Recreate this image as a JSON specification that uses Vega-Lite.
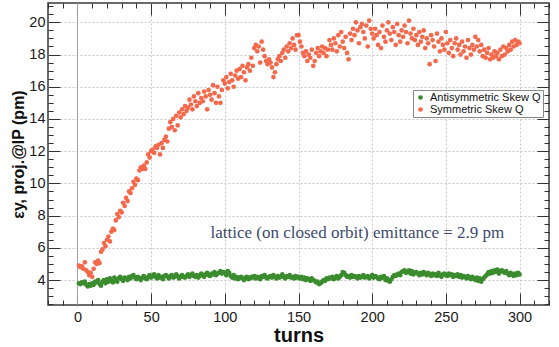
{
  "$schema": "https://vega.github.io/schema/vega-lite/v6.json",
  "width": 501,
  "height": 302,
  "autosize": {"type": "none"},
  "padding": {"left": 48, "top": 3, "right": 10, "bottom": 42},
  "background": "white",
  "config": {
    "view": {"stroke": "#3a3a3a", "strokeWidth": 1.5},
    "font": "Liberation Sans",
    "axis": {"labelFont": "Liberation Sans", "labelFontSize": 14.5, "labelColor": "#1a1a1a", "tickColor": "#333", "domain": false}
  },
  "data": {"values": [
{"t":1,"v":4.9,"c":"Symmetric Skew Q"},{"t":2,"v":4.8,"c":"Symmetric Skew Q"},{"t":3,"v":4.85,"c":"Symmetric Skew Q"},{"t":4,"v":4.7,"c":"Symmetric Skew Q"},{"t":5,"v":5.1,"c":"Symmetric Skew Q"},{"t":6,"v":4.6,"c":"Symmetric Skew Q"},{"t":7,"v":4.5,"c":"Symmetric Skew Q"},{"t":8,"v":4.3,"c":"Symmetric Skew Q"},{"t":9,"v":4.45,"c":"Symmetric Skew Q"},{"t":10,"v":4.2,"c":"Symmetric Skew Q"},
{"t":11,"v":4.7,"c":"Symmetric Skew Q"},{"t":12,"v":5.1,"c":"Symmetric Skew Q"},{"t":13,"v":5.0,"c":"Symmetric Skew Q"},{"t":14,"v":5.2,"c":"Symmetric Skew Q"},{"t":15,"v":5.05,"c":"Symmetric Skew Q"},{"t":16,"v":5.75,"c":"Symmetric Skew Q"},{"t":17,"v":5.9,"c":"Symmetric Skew Q"},{"t":18,"v":6.3,"c":"Symmetric Skew Q"},{"t":19,"v":6.1,"c":"Symmetric Skew Q"},{"t":20,"v":6.5,"c":"Symmetric Skew Q"},
{"t":21,"v":6.7,"c":"Symmetric Skew Q"},{"t":22,"v":6.4,"c":"Symmetric Skew Q"},{"t":23,"v":7.0,"c":"Symmetric Skew Q"},{"t":24,"v":7.2,"c":"Symmetric Skew Q"},{"t":25,"v":7.1,"c":"Symmetric Skew Q"},{"t":26,"v":7.7,"c":"Symmetric Skew Q"},{"t":27,"v":8.1,"c":"Symmetric Skew Q"},{"t":28,"v":7.9,"c":"Symmetric Skew Q"},{"t":29,"v":8.3,"c":"Symmetric Skew Q"},{"t":30,"v":8.2,"c":"Symmetric Skew Q"},
{"t":31,"v":8.8,"c":"Symmetric Skew Q"},{"t":32,"v":8.6,"c":"Symmetric Skew Q"},{"t":33,"v":9.1,"c":"Symmetric Skew Q"},{"t":34,"v":8.9,"c":"Symmetric Skew Q"},{"t":35,"v":9.5,"c":"Symmetric Skew Q"},{"t":36,"v":9.4,"c":"Symmetric Skew Q"},{"t":37,"v":9.7,"c":"Symmetric Skew Q"},{"t":38,"v":10.1,"c":"Symmetric Skew Q"},{"t":39,"v":9.9,"c":"Symmetric Skew Q"},{"t":40,"v":10.3,"c":"Symmetric Skew Q"},
{"t":41,"v":10.2,"c":"Symmetric Skew Q"},{"t":42,"v":10.8,"c":"Symmetric Skew Q"},{"t":43,"v":11.0,"c":"Symmetric Skew Q"},{"t":44,"v":10.9,"c":"Symmetric Skew Q"},{"t":45,"v":11.1,"c":"Symmetric Skew Q"},{"t":46,"v":10.9,"c":"Symmetric Skew Q"},{"t":47,"v":11.3,"c":"Symmetric Skew Q"},{"t":48,"v":11.8,"c":"Symmetric Skew Q"},{"t":49,"v":11.6,"c":"Symmetric Skew Q"},{"t":50,"v":12.0,"c":"Symmetric Skew Q"},
{"t":51,"v":12.1,"c":"Symmetric Skew Q"},{"t":52,"v":11.9,"c":"Symmetric Skew Q"},{"t":53,"v":12.3,"c":"Symmetric Skew Q"},{"t":54,"v":12.2,"c":"Symmetric Skew Q"},{"t":55,"v":12.4,"c":"Symmetric Skew Q"},{"t":56,"v":11.8,"c":"Symmetric Skew Q"},{"t":57,"v":12.5,"c":"Symmetric Skew Q"},{"t":58,"v":12.2,"c":"Symmetric Skew Q"},{"t":59,"v":12.7,"c":"Symmetric Skew Q"},{"t":60,"v":12.9,"c":"Symmetric Skew Q"},
{"t":61,"v":12.6,"c":"Symmetric Skew Q"},{"t":62,"v":13.4,"c":"Symmetric Skew Q"},{"t":63,"v":13.8,"c":"Symmetric Skew Q"},{"t":64,"v":13.5,"c":"Symmetric Skew Q"},{"t":65,"v":14.0,"c":"Symmetric Skew Q"},{"t":66,"v":13.3,"c":"Symmetric Skew Q"},{"t":67,"v":14.2,"c":"Symmetric Skew Q"},{"t":68,"v":13.6,"c":"Symmetric Skew Q"},{"t":69,"v":14.4,"c":"Symmetric Skew Q"},{"t":70,"v":14.1,"c":"Symmetric Skew Q"},
{"t":71,"v":14.6,"c":"Symmetric Skew Q"},{"t":72,"v":14.3,"c":"Symmetric Skew Q"},{"t":73,"v":14.8,"c":"Symmetric Skew Q"},{"t":74,"v":14.5,"c":"Symmetric Skew Q"},{"t":75,"v":14.7,"c":"Symmetric Skew Q"},{"t":76,"v":15.2,"c":"Symmetric Skew Q"},{"t":77,"v":14.9,"c":"Symmetric Skew Q"},{"t":78,"v":14.6,"c":"Symmetric Skew Q"},{"t":79,"v":15.4,"c":"Symmetric Skew Q"},{"t":80,"v":15.1,"c":"Symmetric Skew Q"},
{"t":81,"v":14.8,"c":"Symmetric Skew Q"},{"t":82,"v":15.6,"c":"Symmetric Skew Q"},{"t":83,"v":15.0,"c":"Symmetric Skew Q"},{"t":84,"v":15.3,"c":"Symmetric Skew Q"},{"t":85,"v":15.1,"c":"Symmetric Skew Q"},{"t":86,"v":15.7,"c":"Symmetric Skew Q"},{"t":87,"v":15.4,"c":"Symmetric Skew Q"},{"t":88,"v":14.6,"c":"Symmetric Skew Q"},{"t":89,"v":15.8,"c":"Symmetric Skew Q"},{"t":90,"v":15.5,"c":"Symmetric Skew Q"},
{"t":91,"v":15.2,"c":"Symmetric Skew Q"},{"t":92,"v":16.1,"c":"Symmetric Skew Q"},{"t":93,"v":15.6,"c":"Symmetric Skew Q"},{"t":94,"v":15.0,"c":"Symmetric Skew Q"},{"t":95,"v":16.0,"c":"Symmetric Skew Q"},{"t":96,"v":15.4,"c":"Symmetric Skew Q"},{"t":97,"v":15.0,"c":"Symmetric Skew Q"},{"t":98,"v":15.8,"c":"Symmetric Skew Q"},{"t":99,"v":16.4,"c":"Symmetric Skew Q"},{"t":100,"v":16.2,"c":"Symmetric Skew Q"},
{"t":101,"v":16.6,"c":"Symmetric Skew Q"},{"t":102,"v":15.9,"c":"Symmetric Skew Q"},{"t":103,"v":16.3,"c":"Symmetric Skew Q"},{"t":104,"v":16.8,"c":"Symmetric Skew Q"},{"t":105,"v":16.4,"c":"Symmetric Skew Q"},{"t":106,"v":16.0,"c":"Symmetric Skew Q"},{"t":107,"v":16.7,"c":"Symmetric Skew Q"},{"t":108,"v":17.0,"c":"Symmetric Skew Q"},{"t":109,"v":16.5,"c":"Symmetric Skew Q"},{"t":110,"v":17.1,"c":"Symmetric Skew Q"},
{"t":111,"v":16.6,"c":"Symmetric Skew Q"},{"t":112,"v":17.3,"c":"Symmetric Skew Q"},{"t":113,"v":16.9,"c":"Symmetric Skew Q"},{"t":114,"v":16.4,"c":"Symmetric Skew Q"},{"t":115,"v":17.2,"c":"Symmetric Skew Q"},{"t":116,"v":17.4,"c":"Symmetric Skew Q"},{"t":117,"v":17.0,"c":"Symmetric Skew Q"},{"t":118,"v":17.8,"c":"Symmetric Skew Q"},{"t":119,"v":17.3,"c":"Symmetric Skew Q"},{"t":120,"v":18.4,"c":"Symmetric Skew Q"},
{"t":121,"v":18.6,"c":"Symmetric Skew Q"},{"t":122,"v":18.2,"c":"Symmetric Skew Q"},{"t":123,"v":18.5,"c":"Symmetric Skew Q"},{"t":124,"v":17.5,"c":"Symmetric Skew Q"},{"t":125,"v":18.8,"c":"Symmetric Skew Q"},{"t":126,"v":18.3,"c":"Symmetric Skew Q"},{"t":127,"v":17.9,"c":"Symmetric Skew Q"},{"t":128,"v":17.6,"c":"Symmetric Skew Q"},{"t":129,"v":17.4,"c":"Symmetric Skew Q"},{"t":130,"v":17.7,"c":"Symmetric Skew Q"},
{"t":131,"v":17.5,"c":"Symmetric Skew Q"},{"t":132,"v":17.2,"c":"Symmetric Skew Q"},{"t":133,"v":16.6,"c":"Symmetric Skew Q"},{"t":134,"v":16.9,"c":"Symmetric Skew Q"},{"t":135,"v":17.4,"c":"Symmetric Skew Q"},{"t":136,"v":17.7,"c":"Symmetric Skew Q"},{"t":137,"v":17.9,"c":"Symmetric Skew Q"},{"t":138,"v":17.6,"c":"Symmetric Skew Q"},{"t":139,"v":18.1,"c":"Symmetric Skew Q"},{"t":140,"v":18.3,"c":"Symmetric Skew Q"},
{"t":141,"v":17.8,"c":"Symmetric Skew Q"},{"t":142,"v":18.5,"c":"Symmetric Skew Q"},{"t":143,"v":18.2,"c":"Symmetric Skew Q"},{"t":144,"v":18.7,"c":"Symmetric Skew Q"},{"t":145,"v":18.4,"c":"Symmetric Skew Q"},{"t":146,"v":19.0,"c":"Symmetric Skew Q"},{"t":147,"v":18.6,"c":"Symmetric Skew Q"},{"t":148,"v":18.3,"c":"Symmetric Skew Q"},{"t":149,"v":19.2,"c":"Symmetric Skew Q"},{"t":150,"v":19.2,"c":"Symmetric Skew Q"},
{"t":151,"v":18.8,"c":"Symmetric Skew Q"},{"t":152,"v":18.5,"c":"Symmetric Skew Q"},{"t":153,"v":18.1,"c":"Symmetric Skew Q"},{"t":154,"v":17.9,"c":"Symmetric Skew Q"},{"t":155,"v":18.2,"c":"Symmetric Skew Q"},{"t":156,"v":17.6,"c":"Symmetric Skew Q"},{"t":157,"v":18.0,"c":"Symmetric Skew Q"},{"t":158,"v":17.8,"c":"Symmetric Skew Q"},{"t":159,"v":18.3,"c":"Symmetric Skew Q"},{"t":160,"v":17.3,"c":"Symmetric Skew Q"},
{"t":161,"v":17.6,"c":"Symmetric Skew Q"},{"t":162,"v":18.1,"c":"Symmetric Skew Q"},{"t":163,"v":18.4,"c":"Symmetric Skew Q"},{"t":164,"v":17.9,"c":"Symmetric Skew Q"},{"t":165,"v":18.2,"c":"Symmetric Skew Q"},{"t":166,"v":18.5,"c":"Symmetric Skew Q"},{"t":167,"v":18.1,"c":"Symmetric Skew Q"},{"t":168,"v":18.4,"c":"Symmetric Skew Q"},{"t":169,"v":17.9,"c":"Symmetric Skew Q"},{"t":170,"v":18.3,"c":"Symmetric Skew Q"},
{"t":171,"v":18.9,"c":"Symmetric Skew Q"},{"t":172,"v":18.6,"c":"Symmetric Skew Q"},{"t":173,"v":18.3,"c":"Symmetric Skew Q"},{"t":174,"v":19.0,"c":"Symmetric Skew Q"},{"t":175,"v":18.7,"c":"Symmetric Skew Q"},{"t":176,"v":18.2,"c":"Symmetric Skew Q"},{"t":177,"v":19.2,"c":"Symmetric Skew Q"},{"t":178,"v":18.5,"c":"Symmetric Skew Q"},{"t":179,"v":19.4,"c":"Symmetric Skew Q"},{"t":180,"v":18.8,"c":"Symmetric Skew Q"},
{"t":181,"v":18.4,"c":"Symmetric Skew Q"},{"t":182,"v":19.1,"c":"Symmetric Skew Q"},{"t":183,"v":18.1,"c":"Symmetric Skew Q"},{"t":184,"v":17.7,"c":"Symmetric Skew Q"},{"t":185,"v":19.3,"c":"Symmetric Skew Q"},{"t":186,"v":18.9,"c":"Symmetric Skew Q"},{"t":187,"v":19.6,"c":"Symmetric Skew Q"},{"t":188,"v":19.2,"c":"Symmetric Skew Q"},{"t":189,"v":20.0,"c":"Symmetric Skew Q"},{"t":190,"v":19.5,"c":"Symmetric Skew Q"},
{"t":191,"v":18.7,"c":"Symmetric Skew Q"},{"t":192,"v":19.7,"c":"Symmetric Skew Q"},{"t":193,"v":19.9,"c":"Symmetric Skew Q"},{"t":194,"v":19.4,"c":"Symmetric Skew Q"},{"t":195,"v":19.0,"c":"Symmetric Skew Q"},{"t":196,"v":19.8,"c":"Symmetric Skew Q"},{"t":197,"v":18.5,"c":"Symmetric Skew Q"},{"t":198,"v":20.1,"c":"Symmetric Skew Q"},{"t":199,"v":19.6,"c":"Symmetric Skew Q"},{"t":200,"v":19.3,"c":"Symmetric Skew Q"},
{"t":201,"v":19.0,"c":"Symmetric Skew Q"},{"t":202,"v":19.6,"c":"Symmetric Skew Q"},{"t":203,"v":19.2,"c":"Symmetric Skew Q"},{"t":204,"v":18.6,"c":"Symmetric Skew Q"},{"t":205,"v":19.4,"c":"Symmetric Skew Q"},{"t":206,"v":18.4,"c":"Symmetric Skew Q"},{"t":207,"v":19.8,"c":"Symmetric Skew Q"},{"t":208,"v":19.1,"c":"Symmetric Skew Q"},{"t":209,"v":18.8,"c":"Symmetric Skew Q"},{"t":210,"v":19.5,"c":"Symmetric Skew Q"},
{"t":211,"v":20.0,"c":"Symmetric Skew Q"},{"t":212,"v":19.3,"c":"Symmetric Skew Q"},{"t":213,"v":18.9,"c":"Symmetric Skew Q"},{"t":214,"v":19.7,"c":"Symmetric Skew Q"},{"t":215,"v":19.4,"c":"Symmetric Skew Q"},{"t":216,"v":18.6,"c":"Symmetric Skew Q"},{"t":217,"v":19.9,"c":"Symmetric Skew Q"},{"t":218,"v":19.2,"c":"Symmetric Skew Q"},{"t":219,"v":18.8,"c":"Symmetric Skew Q"},{"t":220,"v":19.5,"c":"Symmetric Skew Q"},
{"t":221,"v":19.1,"c":"Symmetric Skew Q"},{"t":222,"v":19.8,"c":"Symmetric Skew Q"},{"t":223,"v":19.4,"c":"Symmetric Skew Q"},{"t":224,"v":18.7,"c":"Symmetric Skew Q"},{"t":225,"v":20.1,"c":"Symmetric Skew Q"},{"t":226,"v":19.3,"c":"Symmetric Skew Q"},{"t":227,"v":19.0,"c":"Symmetric Skew Q"},{"t":228,"v":19.6,"c":"Symmetric Skew Q"},{"t":229,"v":18.9,"c":"Symmetric Skew Q"},{"t":230,"v":19.2,"c":"Symmetric Skew Q"},
{"t":231,"v":18.6,"c":"Symmetric Skew Q"},{"t":232,"v":19.4,"c":"Symmetric Skew Q"},{"t":233,"v":18.8,"c":"Symmetric Skew Q"},{"t":234,"v":19.1,"c":"Symmetric Skew Q"},{"t":235,"v":19.5,"c":"Symmetric Skew Q"},{"t":236,"v":18.4,"c":"Symmetric Skew Q"},{"t":237,"v":19.0,"c":"Symmetric Skew Q"},{"t":238,"v":18.7,"c":"Symmetric Skew Q"},{"t":239,"v":17.4,"c":"Symmetric Skew Q"},{"t":240,"v":19.2,"c":"Symmetric Skew Q"},
{"t":241,"v":18.9,"c":"Symmetric Skew Q"},{"t":242,"v":18.5,"c":"Symmetric Skew Q"},{"t":243,"v":17.6,"c":"Symmetric Skew Q"},{"t":244,"v":19.3,"c":"Symmetric Skew Q"},{"t":245,"v":18.8,"c":"Symmetric Skew Q"},{"t":246,"v":18.2,"c":"Symmetric Skew Q"},{"t":247,"v":19.0,"c":"Symmetric Skew Q"},{"t":248,"v":18.6,"c":"Symmetric Skew Q"},{"t":249,"v":18.3,"c":"Symmetric Skew Q"},{"t":250,"v":19.4,"c":"Symmetric Skew Q"},
{"t":251,"v":18.7,"c":"Symmetric Skew Q"},{"t":252,"v":18.1,"c":"Symmetric Skew Q"},{"t":253,"v":18.9,"c":"Symmetric Skew Q"},{"t":254,"v":18.4,"c":"Symmetric Skew Q"},{"t":255,"v":17.9,"c":"Symmetric Skew Q"},{"t":256,"v":18.7,"c":"Symmetric Skew Q"},{"t":257,"v":19.0,"c":"Symmetric Skew Q"},{"t":258,"v":18.3,"c":"Symmetric Skew Q"},{"t":259,"v":18.6,"c":"Symmetric Skew Q"},{"t":260,"v":18.0,"c":"Symmetric Skew Q"},
{"t":261,"v":18.8,"c":"Symmetric Skew Q"},{"t":262,"v":18.2,"c":"Symmetric Skew Q"},{"t":263,"v":18.5,"c":"Symmetric Skew Q"},{"t":264,"v":17.8,"c":"Symmetric Skew Q"},{"t":265,"v":18.9,"c":"Symmetric Skew Q"},{"t":266,"v":18.4,"c":"Symmetric Skew Q"},{"t":267,"v":18.0,"c":"Symmetric Skew Q"},{"t":268,"v":18.6,"c":"Symmetric Skew Q"},{"t":269,"v":18.3,"c":"Symmetric Skew Q"},{"t":270,"v":19.1,"c":"Symmetric Skew Q"},
{"t":271,"v":18.5,"c":"Symmetric Skew Q"},{"t":272,"v":18.9,"c":"Symmetric Skew Q"},{"t":273,"v":18.2,"c":"Symmetric Skew Q"},{"t":274,"v":18.6,"c":"Symmetric Skew Q"},{"t":275,"v":17.9,"c":"Symmetric Skew Q"},{"t":276,"v":18.3,"c":"Symmetric Skew Q"},{"t":277,"v":17.8,"c":"Symmetric Skew Q"},{"t":278,"v":18.1,"c":"Symmetric Skew Q"},{"t":279,"v":18.4,"c":"Symmetric Skew Q"},{"t":280,"v":17.7,"c":"Symmetric Skew Q"},
{"t":281,"v":18.0,"c":"Symmetric Skew Q"},{"t":282,"v":17.8,"c":"Symmetric Skew Q"},{"t":283,"v":18.2,"c":"Symmetric Skew Q"},{"t":284,"v":17.9,"c":"Symmetric Skew Q"},{"t":285,"v":18.1,"c":"Symmetric Skew Q"},{"t":286,"v":17.7,"c":"Symmetric Skew Q"},{"t":287,"v":18.3,"c":"Symmetric Skew Q"},{"t":288,"v":17.9,"c":"Symmetric Skew Q"},{"t":289,"v":18.5,"c":"Symmetric Skew Q"},{"t":290,"v":18.0,"c":"Symmetric Skew Q"},
{"t":291,"v":18.4,"c":"Symmetric Skew Q"},{"t":292,"v":18.2,"c":"Symmetric Skew Q"},{"t":293,"v":18.6,"c":"Symmetric Skew Q"},{"t":294,"v":18.3,"c":"Symmetric Skew Q"},{"t":295,"v":18.8,"c":"Symmetric Skew Q"},{"t":296,"v":18.5,"c":"Symmetric Skew Q"},{"t":297,"v":18.9,"c":"Symmetric Skew Q"},{"t":298,"v":18.6,"c":"Symmetric Skew Q"},{"t":299,"v":18.8,"c":"Symmetric Skew Q"},{"t":300,"v":18.7,"c":"Symmetric Skew Q"},
{"t":1,"v":3.8,"c":"Antisymmetric Skew Q"},{"t":2,"v":3.75,"c":"Antisymmetric Skew Q"},{"t":3,"v":3.85,"c":"Antisymmetric Skew Q"},{"t":4,"v":3.8,"c":"Antisymmetric Skew Q"},{"t":5,"v":3.9,"c":"Antisymmetric Skew Q"},{"t":6,"v":3.7,"c":"Antisymmetric Skew Q"},{"t":7,"v":3.6,"c":"Antisymmetric Skew Q"},{"t":8,"v":3.75,"c":"Antisymmetric Skew Q"},{"t":9,"v":3.65,"c":"Antisymmetric Skew Q"},{"t":10,"v":3.8,"c":"Antisymmetric Skew Q"},
{"t":11,"v":3.7,"c":"Antisymmetric Skew Q"},{"t":12,"v":3.9,"c":"Antisymmetric Skew Q"},{"t":13,"v":3.85,"c":"Antisymmetric Skew Q"},{"t":14,"v":4.0,"c":"Antisymmetric Skew Q"},{"t":15,"v":3.75,"c":"Antisymmetric Skew Q"},{"t":16,"v":3.65,"c":"Antisymmetric Skew Q"},{"t":17,"v":3.9,"c":"Antisymmetric Skew Q"},{"t":18,"v":4.0,"c":"Antisymmetric Skew Q"},{"t":19,"v":3.8,"c":"Antisymmetric Skew Q"},{"t":20,"v":4.05,"c":"Antisymmetric Skew Q"},
{"t":21,"v":3.9,"c":"Antisymmetric Skew Q"},{"t":22,"v":4.1,"c":"Antisymmetric Skew Q"},{"t":23,"v":3.95,"c":"Antisymmetric Skew Q"},{"t":24,"v":3.85,"c":"Antisymmetric Skew Q"},{"t":25,"v":4.15,"c":"Antisymmetric Skew Q"},{"t":26,"v":4.0,"c":"Antisymmetric Skew Q"},{"t":27,"v":3.9,"c":"Antisymmetric Skew Q"},{"t":28,"v":4.1,"c":"Antisymmetric Skew Q"},{"t":29,"v":4.2,"c":"Antisymmetric Skew Q"},{"t":30,"v":4.05,"c":"Antisymmetric Skew Q"},
{"t":31,"v":3.95,"c":"Antisymmetric Skew Q"},{"t":32,"v":4.15,"c":"Antisymmetric Skew Q"},{"t":33,"v":4.1,"c":"Antisymmetric Skew Q"},{"t":34,"v":4.0,"c":"Antisymmetric Skew Q"},{"t":35,"v":4.2,"c":"Antisymmetric Skew Q"},{"t":36,"v":4.1,"c":"Antisymmetric Skew Q"},{"t":37,"v":4.25,"c":"Antisymmetric Skew Q"},{"t":38,"v":4.3,"c":"Antisymmetric Skew Q"},{"t":39,"v":4.15,"c":"Antisymmetric Skew Q"},{"t":40,"v":4.05,"c":"Antisymmetric Skew Q"},
{"t":41,"v":4.2,"c":"Antisymmetric Skew Q"},{"t":42,"v":4.1,"c":"Antisymmetric Skew Q"},{"t":43,"v":4.0,"c":"Antisymmetric Skew Q"},{"t":44,"v":4.15,"c":"Antisymmetric Skew Q"},{"t":45,"v":4.25,"c":"Antisymmetric Skew Q"},{"t":46,"v":4.1,"c":"Antisymmetric Skew Q"},{"t":47,"v":4.05,"c":"Antisymmetric Skew Q"},{"t":48,"v":4.2,"c":"Antisymmetric Skew Q"},{"t":49,"v":4.3,"c":"Antisymmetric Skew Q"},{"t":50,"v":4.15,"c":"Antisymmetric Skew Q"},
{"t":51,"v":4.25,"c":"Antisymmetric Skew Q"},{"t":52,"v":4.35,"c":"Antisymmetric Skew Q"},{"t":53,"v":4.2,"c":"Antisymmetric Skew Q"},{"t":54,"v":4.1,"c":"Antisymmetric Skew Q"},{"t":55,"v":4.3,"c":"Antisymmetric Skew Q"},{"t":56,"v":4.15,"c":"Antisymmetric Skew Q"},{"t":57,"v":4.2,"c":"Antisymmetric Skew Q"},{"t":58,"v":4.05,"c":"Antisymmetric Skew Q"},{"t":59,"v":4.25,"c":"Antisymmetric Skew Q"},{"t":60,"v":4.3,"c":"Antisymmetric Skew Q"},
{"t":61,"v":4.2,"c":"Antisymmetric Skew Q"},{"t":62,"v":4.1,"c":"Antisymmetric Skew Q"},{"t":63,"v":4.25,"c":"Antisymmetric Skew Q"},{"t":64,"v":4.3,"c":"Antisymmetric Skew Q"},{"t":65,"v":4.15,"c":"Antisymmetric Skew Q"},{"t":66,"v":4.2,"c":"Antisymmetric Skew Q"},{"t":67,"v":4.35,"c":"Antisymmetric Skew Q"},{"t":68,"v":4.25,"c":"Antisymmetric Skew Q"},{"t":69,"v":4.1,"c":"Antisymmetric Skew Q"},{"t":70,"v":4.2,"c":"Antisymmetric Skew Q"},
{"t":71,"v":4.3,"c":"Antisymmetric Skew Q"},{"t":72,"v":4.2,"c":"Antisymmetric Skew Q"},{"t":73,"v":4.15,"c":"Antisymmetric Skew Q"},{"t":74,"v":4.25,"c":"Antisymmetric Skew Q"},{"t":75,"v":4.35,"c":"Antisymmetric Skew Q"},{"t":76,"v":4.2,"c":"Antisymmetric Skew Q"},{"t":77,"v":4.3,"c":"Antisymmetric Skew Q"},{"t":78,"v":4.4,"c":"Antisymmetric Skew Q"},{"t":79,"v":4.25,"c":"Antisymmetric Skew Q"},{"t":80,"v":4.2,"c":"Antisymmetric Skew Q"},
{"t":81,"v":4.3,"c":"Antisymmetric Skew Q"},{"t":82,"v":4.15,"c":"Antisymmetric Skew Q"},{"t":83,"v":4.25,"c":"Antisymmetric Skew Q"},{"t":84,"v":4.4,"c":"Antisymmetric Skew Q"},{"t":85,"v":4.3,"c":"Antisymmetric Skew Q"},{"t":86,"v":4.2,"c":"Antisymmetric Skew Q"},{"t":87,"v":4.35,"c":"Antisymmetric Skew Q"},{"t":88,"v":4.45,"c":"Antisymmetric Skew Q"},{"t":89,"v":4.3,"c":"Antisymmetric Skew Q"},{"t":90,"v":4.25,"c":"Antisymmetric Skew Q"},
{"t":91,"v":4.4,"c":"Antisymmetric Skew Q"},{"t":92,"v":4.35,"c":"Antisymmetric Skew Q"},{"t":93,"v":4.5,"c":"Antisymmetric Skew Q"},{"t":94,"v":4.3,"c":"Antisymmetric Skew Q"},{"t":95,"v":4.4,"c":"Antisymmetric Skew Q"},{"t":96,"v":4.45,"c":"Antisymmetric Skew Q"},{"t":97,"v":4.55,"c":"Antisymmetric Skew Q"},{"t":98,"v":4.4,"c":"Antisymmetric Skew Q"},{"t":99,"v":4.5,"c":"Antisymmetric Skew Q"},{"t":100,"v":4.45,"c":"Antisymmetric Skew Q"},
{"t":101,"v":4.3,"c":"Antisymmetric Skew Q"},{"t":102,"v":4.55,"c":"Antisymmetric Skew Q"},{"t":103,"v":4.45,"c":"Antisymmetric Skew Q"},{"t":104,"v":4.25,"c":"Antisymmetric Skew Q"},{"t":105,"v":4.15,"c":"Antisymmetric Skew Q"},{"t":106,"v":4.3,"c":"Antisymmetric Skew Q"},{"t":107,"v":4.1,"c":"Antisymmetric Skew Q"},{"t":108,"v":4.2,"c":"Antisymmetric Skew Q"},{"t":109,"v":4.05,"c":"Antisymmetric Skew Q"},{"t":110,"v":4.15,"c":"Antisymmetric Skew Q"},
{"t":111,"v":4.2,"c":"Antisymmetric Skew Q"},{"t":112,"v":4.1,"c":"Antisymmetric Skew Q"},{"t":113,"v":4.0,"c":"Antisymmetric Skew Q"},{"t":114,"v":4.15,"c":"Antisymmetric Skew Q"},{"t":115,"v":4.2,"c":"Antisymmetric Skew Q"},{"t":116,"v":4.05,"c":"Antisymmetric Skew Q"},{"t":117,"v":4.1,"c":"Antisymmetric Skew Q"},{"t":118,"v":4.2,"c":"Antisymmetric Skew Q"},{"t":119,"v":4.15,"c":"Antisymmetric Skew Q"},{"t":120,"v":4.25,"c":"Antisymmetric Skew Q"},
{"t":121,"v":4.1,"c":"Antisymmetric Skew Q"},{"t":122,"v":4.2,"c":"Antisymmetric Skew Q"},{"t":123,"v":4.15,"c":"Antisymmetric Skew Q"},{"t":124,"v":4.05,"c":"Antisymmetric Skew Q"},{"t":125,"v":4.25,"c":"Antisymmetric Skew Q"},{"t":126,"v":4.2,"c":"Antisymmetric Skew Q"},{"t":127,"v":4.3,"c":"Antisymmetric Skew Q"},{"t":128,"v":4.15,"c":"Antisymmetric Skew Q"},{"t":129,"v":4.1,"c":"Antisymmetric Skew Q"},{"t":130,"v":4.2,"c":"Antisymmetric Skew Q"},
{"t":131,"v":4.25,"c":"Antisymmetric Skew Q"},{"t":132,"v":4.15,"c":"Antisymmetric Skew Q"},{"t":133,"v":4.3,"c":"Antisymmetric Skew Q"},{"t":134,"v":4.2,"c":"Antisymmetric Skew Q"},{"t":135,"v":4.1,"c":"Antisymmetric Skew Q"},{"t":136,"v":4.25,"c":"Antisymmetric Skew Q"},{"t":137,"v":4.15,"c":"Antisymmetric Skew Q"},{"t":138,"v":4.2,"c":"Antisymmetric Skew Q"},{"t":139,"v":4.35,"c":"Antisymmetric Skew Q"},{"t":140,"v":4.2,"c":"Antisymmetric Skew Q"},
{"t":141,"v":4.1,"c":"Antisymmetric Skew Q"},{"t":142,"v":4.25,"c":"Antisymmetric Skew Q"},{"t":143,"v":4.2,"c":"Antisymmetric Skew Q"},{"t":144,"v":4.3,"c":"Antisymmetric Skew Q"},{"t":145,"v":4.15,"c":"Antisymmetric Skew Q"},{"t":146,"v":4.2,"c":"Antisymmetric Skew Q"},{"t":147,"v":4.1,"c":"Antisymmetric Skew Q"},{"t":148,"v":4.25,"c":"Antisymmetric Skew Q"},{"t":149,"v":4.15,"c":"Antisymmetric Skew Q"},{"t":150,"v":4.2,"c":"Antisymmetric Skew Q"},
{"t":151,"v":4.1,"c":"Antisymmetric Skew Q"},{"t":152,"v":4.2,"c":"Antisymmetric Skew Q"},{"t":153,"v":4.05,"c":"Antisymmetric Skew Q"},{"t":154,"v":4.15,"c":"Antisymmetric Skew Q"},{"t":155,"v":4.0,"c":"Antisymmetric Skew Q"},{"t":156,"v":4.1,"c":"Antisymmetric Skew Q"},{"t":157,"v":4.05,"c":"Antisymmetric Skew Q"},{"t":158,"v":3.95,"c":"Antisymmetric Skew Q"},{"t":159,"v":4.1,"c":"Antisymmetric Skew Q"},{"t":160,"v":4.0,"c":"Antisymmetric Skew Q"},
{"t":161,"v":3.95,"c":"Antisymmetric Skew Q"},{"t":162,"v":3.85,"c":"Antisymmetric Skew Q"},{"t":163,"v":3.9,"c":"Antisymmetric Skew Q"},{"t":164,"v":3.75,"c":"Antisymmetric Skew Q"},{"t":165,"v":3.8,"c":"Antisymmetric Skew Q"},{"t":166,"v":3.9,"c":"Antisymmetric Skew Q"},{"t":167,"v":4.0,"c":"Antisymmetric Skew Q"},{"t":168,"v":3.95,"c":"Antisymmetric Skew Q"},{"t":169,"v":4.1,"c":"Antisymmetric Skew Q"},{"t":170,"v":4.05,"c":"Antisymmetric Skew Q"},
{"t":171,"v":4.15,"c":"Antisymmetric Skew Q"},{"t":172,"v":4.1,"c":"Antisymmetric Skew Q"},{"t":173,"v":4.2,"c":"Antisymmetric Skew Q"},{"t":174,"v":4.05,"c":"Antisymmetric Skew Q"},{"t":175,"v":4.15,"c":"Antisymmetric Skew Q"},{"t":176,"v":4.25,"c":"Antisymmetric Skew Q"},{"t":177,"v":4.1,"c":"Antisymmetric Skew Q"},{"t":178,"v":4.2,"c":"Antisymmetric Skew Q"},{"t":179,"v":4.3,"c":"Antisymmetric Skew Q"},{"t":180,"v":4.5,"c":"Antisymmetric Skew Q"},
{"t":181,"v":4.45,"c":"Antisymmetric Skew Q"},{"t":182,"v":4.3,"c":"Antisymmetric Skew Q"},{"t":183,"v":4.2,"c":"Antisymmetric Skew Q"},{"t":184,"v":4.25,"c":"Antisymmetric Skew Q"},{"t":185,"v":4.15,"c":"Antisymmetric Skew Q"},{"t":186,"v":4.3,"c":"Antisymmetric Skew Q"},{"t":187,"v":4.2,"c":"Antisymmetric Skew Q"},{"t":188,"v":4.25,"c":"Antisymmetric Skew Q"},{"t":189,"v":4.2,"c":"Antisymmetric Skew Q"},{"t":190,"v":4.1,"c":"Antisymmetric Skew Q"},
{"t":191,"v":4.25,"c":"Antisymmetric Skew Q"},{"t":192,"v":4.15,"c":"Antisymmetric Skew Q"},{"t":193,"v":4.2,"c":"Antisymmetric Skew Q"},{"t":194,"v":4.3,"c":"Antisymmetric Skew Q"},{"t":195,"v":4.15,"c":"Antisymmetric Skew Q"},{"t":196,"v":4.2,"c":"Antisymmetric Skew Q"},{"t":197,"v":4.25,"c":"Antisymmetric Skew Q"},{"t":198,"v":4.1,"c":"Antisymmetric Skew Q"},{"t":199,"v":4.2,"c":"Antisymmetric Skew Q"},{"t":200,"v":4.3,"c":"Antisymmetric Skew Q"},
{"t":201,"v":4.15,"c":"Antisymmetric Skew Q"},{"t":202,"v":4.25,"c":"Antisymmetric Skew Q"},{"t":203,"v":4.2,"c":"Antisymmetric Skew Q"},{"t":204,"v":4.1,"c":"Antisymmetric Skew Q"},{"t":205,"v":4.05,"c":"Antisymmetric Skew Q"},{"t":206,"v":4.2,"c":"Antisymmetric Skew Q"},{"t":207,"v":4.15,"c":"Antisymmetric Skew Q"},{"t":208,"v":4.25,"c":"Antisymmetric Skew Q"},{"t":209,"v":4.0,"c":"Antisymmetric Skew Q"},{"t":210,"v":4.1,"c":"Antisymmetric Skew Q"},
{"t":211,"v":3.95,"c":"Antisymmetric Skew Q"},{"t":212,"v":3.9,"c":"Antisymmetric Skew Q"},{"t":213,"v":4.05,"c":"Antisymmetric Skew Q"},{"t":214,"v":4.2,"c":"Antisymmetric Skew Q"},{"t":215,"v":4.3,"c":"Antisymmetric Skew Q"},{"t":216,"v":4.25,"c":"Antisymmetric Skew Q"},{"t":217,"v":4.35,"c":"Antisymmetric Skew Q"},{"t":218,"v":4.4,"c":"Antisymmetric Skew Q"},{"t":219,"v":4.3,"c":"Antisymmetric Skew Q"},{"t":220,"v":4.5,"c":"Antisymmetric Skew Q"},
{"t":221,"v":4.55,"c":"Antisymmetric Skew Q"},{"t":222,"v":4.6,"c":"Antisymmetric Skew Q"},{"t":223,"v":4.45,"c":"Antisymmetric Skew Q"},{"t":224,"v":4.5,"c":"Antisymmetric Skew Q"},{"t":225,"v":4.6,"c":"Antisymmetric Skew Q"},{"t":226,"v":4.4,"c":"Antisymmetric Skew Q"},{"t":227,"v":4.55,"c":"Antisymmetric Skew Q"},{"t":228,"v":4.35,"c":"Antisymmetric Skew Q"},{"t":229,"v":4.45,"c":"Antisymmetric Skew Q"},{"t":230,"v":4.5,"c":"Antisymmetric Skew Q"},
{"t":231,"v":4.4,"c":"Antisymmetric Skew Q"},{"t":232,"v":4.3,"c":"Antisymmetric Skew Q"},{"t":233,"v":4.45,"c":"Antisymmetric Skew Q"},{"t":234,"v":4.35,"c":"Antisymmetric Skew Q"},{"t":235,"v":4.5,"c":"Antisymmetric Skew Q"},{"t":236,"v":4.4,"c":"Antisymmetric Skew Q"},{"t":237,"v":4.3,"c":"Antisymmetric Skew Q"},{"t":238,"v":4.45,"c":"Antisymmetric Skew Q"},{"t":239,"v":4.35,"c":"Antisymmetric Skew Q"},{"t":240,"v":4.25,"c":"Antisymmetric Skew Q"},
{"t":241,"v":4.4,"c":"Antisymmetric Skew Q"},{"t":242,"v":4.3,"c":"Antisymmetric Skew Q"},{"t":243,"v":4.35,"c":"Antisymmetric Skew Q"},{"t":244,"v":4.25,"c":"Antisymmetric Skew Q"},{"t":245,"v":4.45,"c":"Antisymmetric Skew Q"},{"t":246,"v":4.3,"c":"Antisymmetric Skew Q"},{"t":247,"v":4.2,"c":"Antisymmetric Skew Q"},{"t":248,"v":4.35,"c":"Antisymmetric Skew Q"},{"t":249,"v":4.4,"c":"Antisymmetric Skew Q"},{"t":250,"v":4.3,"c":"Antisymmetric Skew Q"},
{"t":251,"v":4.25,"c":"Antisymmetric Skew Q"},{"t":252,"v":4.4,"c":"Antisymmetric Skew Q"},{"t":253,"v":4.3,"c":"Antisymmetric Skew Q"},{"t":254,"v":4.35,"c":"Antisymmetric Skew Q"},{"t":255,"v":4.2,"c":"Antisymmetric Skew Q"},{"t":256,"v":4.3,"c":"Antisymmetric Skew Q"},{"t":257,"v":4.25,"c":"Antisymmetric Skew Q"},{"t":258,"v":4.35,"c":"Antisymmetric Skew Q"},{"t":259,"v":4.2,"c":"Antisymmetric Skew Q"},{"t":260,"v":4.3,"c":"Antisymmetric Skew Q"},
{"t":261,"v":4.15,"c":"Antisymmetric Skew Q"},{"t":262,"v":4.25,"c":"Antisymmetric Skew Q"},{"t":263,"v":4.2,"c":"Antisymmetric Skew Q"},{"t":264,"v":4.1,"c":"Antisymmetric Skew Q"},{"t":265,"v":4.25,"c":"Antisymmetric Skew Q"},{"t":266,"v":4.15,"c":"Antisymmetric Skew Q"},{"t":267,"v":4.05,"c":"Antisymmetric Skew Q"},{"t":268,"v":4.2,"c":"Antisymmetric Skew Q"},{"t":269,"v":4.1,"c":"Antisymmetric Skew Q"},{"t":270,"v":4.0,"c":"Antisymmetric Skew Q"},
{"t":271,"v":4.15,"c":"Antisymmetric Skew Q"},{"t":272,"v":3.95,"c":"Antisymmetric Skew Q"},{"t":273,"v":4.1,"c":"Antisymmetric Skew Q"},{"t":274,"v":3.9,"c":"Antisymmetric Skew Q"},{"t":275,"v":4.05,"c":"Antisymmetric Skew Q"},{"t":276,"v":4.15,"c":"Antisymmetric Skew Q"},{"t":277,"v":4.25,"c":"Antisymmetric Skew Q"},{"t":278,"v":4.35,"c":"Antisymmetric Skew Q"},{"t":279,"v":4.5,"c":"Antisymmetric Skew Q"},{"t":280,"v":4.4,"c":"Antisymmetric Skew Q"},
{"t":281,"v":4.55,"c":"Antisymmetric Skew Q"},{"t":282,"v":4.45,"c":"Antisymmetric Skew Q"},{"t":283,"v":4.6,"c":"Antisymmetric Skew Q"},{"t":284,"v":4.5,"c":"Antisymmetric Skew Q"},{"t":285,"v":4.65,"c":"Antisymmetric Skew Q"},{"t":286,"v":4.4,"c":"Antisymmetric Skew Q"},{"t":287,"v":4.55,"c":"Antisymmetric Skew Q"},{"t":288,"v":4.6,"c":"Antisymmetric Skew Q"},{"t":289,"v":4.5,"c":"Antisymmetric Skew Q"},{"t":290,"v":4.45,"c":"Antisymmetric Skew Q"},
{"t":291,"v":4.55,"c":"Antisymmetric Skew Q"},{"t":292,"v":4.4,"c":"Antisymmetric Skew Q"},{"t":293,"v":4.3,"c":"Antisymmetric Skew Q"},{"t":294,"v":4.45,"c":"Antisymmetric Skew Q"},{"t":295,"v":4.35,"c":"Antisymmetric Skew Q"},{"t":296,"v":4.25,"c":"Antisymmetric Skew Q"},{"t":297,"v":4.4,"c":"Antisymmetric Skew Q"},{"t":298,"v":4.3,"c":"Antisymmetric Skew Q"},{"t":299,"v":4.45,"c":"Antisymmetric Skew Q"},{"t":300,"v":4.35,"c":"Antisymmetric Skew Q"}
  ]},
  "layer": [
    {
      "data": {"values": [{"z": 0}]},
      "mark": {"type": "rule", "color": "#a0a0a0", "strokeWidth": 1},
      "encoding": {
        "x": {"field": "z", "type": "quantitative", "scale": {"domain": [-20, 320], "nice": false, "zero": false}, "axis": null}
      }
    },
    {
      "mark": {"type": "circle", "size": 22, "opacity": 1},
      "encoding": {
        "x": {
          "field": "t", "type": "quantitative",
          "scale": {"domain": [-20, 320], "nice": false, "zero": false},
          "axis": {
            "orient": "bottom",
            "title": "turns",
            "titleFont": "Liberation Sans", "titleFontSize": 20, "titleFontWeight": "bold", "titleColor": "#111", "titlePadding": 2,
            "values": [-20,-10,0,10,20,30,40,50,60,70,80,90,100,110,120,130,140,150,160,170,180,190,200,210,220,230,240,250,260,270,280,290,300,310,320],
            "labelExpr": "datum.value % 50 === 0 ? format(datum.value, 'd') : ''",
            "labelPadding": {"condition": {"test": "datum.value % 50 === 0", "value": 17}, "value": 10},
            "tickSize": {"condition": {"test": "datum.value % 50 === 0", "value": -12}, "value": -5},
            "grid": true,
            "gridColor": "#c8c8c8",
            "gridDash": [2, 2],
            "gridOpacity": {"condition": {"test": "datum.value % 50 === 0 && datum.value !== 0", "value": 1}, "value": 0}
          }
        },
        "y": {
          "field": "v", "type": "quantitative",
          "scale": {"domain": [2.45, 21.2], "nice": false, "zero": false},
          "axis": {
            "orient": "left",
            "title": "εy, proj.@IP (pm)",
            "titleFont": "Liberation Sans", "titleFontSize": 16, "titleFontWeight": "bold", "titleColor": "#111", "titlePadding": 2,
            "values": [2.5,3,3.5,4,4.5,5,5.5,6,6.5,7,7.5,8,8.5,9,9.5,10,10.5,11,11.5,12,12.5,13,13.5,14,14.5,15,15.5,16,16.5,17,17.5,18,18.5,19,19.5,20,20.5,21],
            "labelExpr": "datum.value % 2 === 0 ? format(datum.value, 'd') : ''",
            "labelPadding": {"condition": {"test": "datum.value % 2 === 0", "value": 15}, "value": 8},
            "tickSize": {"condition": {"test": "datum.value % 2 === 0", "value": -12}, "value": -5},
            "grid": true,
            "gridColor": "#c8c8c8",
            "gridDash": [2, 2],
            "gridOpacity": {"condition": {"test": "datum.value % 2 === 0", "value": 1}, "value": 0}
          }
        },
        "color": {
          "field": "c", "type": "nominal",
          "scale": {"domain": ["Antisymmetric Skew Q", "Symmetric Skew Q"], "range": ["#3b8c2e", "#f4694b"]},
          "legend": {
            "title": null,
            "orient": "none",
            "legendX": 365,
            "legendY": 87,
            "direction": "vertical",
            "labelFont": "Liberation Sans",
            "labelFontSize": 11,
            "labelColor": "#111",
            "symbolType": "circle",
            "symbolSize": 22,
            "rowPadding": 0,
            "padding": 2,
            "fillColor": "white",
            "strokeColor": "#888"
          }
        }
      }
    },
    {
      "mark": {"type": "circle", "opacity": 0},
      "encoding": {
        "x": {
          "field": "t", "type": "quantitative",
          "scale": {"domain": [-20, 320], "nice": false, "zero": false},
          "axis": {
            "orient": "top", "title": null, "labels": false, "grid": false,
            "values": [-20,-10,0,10,20,30,40,50,60,70,80,90,100,110,120,130,140,150,160,170,180,190,200,210,220,230,240,250,260,270,280,290,300,310,320],
            "tickSize": {"condition": {"test": "datum.value % 50 === 0", "value": -12}, "value": -5}
          }
        },
        "y": {
          "field": "v", "type": "quantitative",
          "scale": {"domain": [2.45, 21.2], "nice": false, "zero": false},
          "axis": {
            "orient": "right", "title": null, "labels": false, "grid": false,
            "values": [2.5,3,3.5,4,4.5,5,5.5,6,6.5,7,7.5,8,8.5,9,9.5,10,10.5,11,11.5,12,12.5,13,13.5,14,14.5,15,15.5,16,16.5,17,17.5,18,18.5,19,19.5,20,20.5,21],
            "tickSize": {"condition": {"test": "datum.value % 2 === 0", "value": -12}, "value": -5}
          }
        }
      }
    },
    {
      "data": {"values": [{"x": 190, "y": 6.9, "label": "lattice (on closed orbit) emittance = 2.9 pm"}]},
      "mark": {"type": "text", "font": "Liberation Serif", "fontSize": 17, "color": "#3b4a6e", "align": "center", "baseline": "middle"},
      "encoding": {
        "x": {"field": "x", "type": "quantitative", "scale": {"domain": [-20, 320], "nice": false, "zero": false}, "axis": null},
        "y": {"field": "y", "type": "quantitative", "scale": {"domain": [2.45, 21.2], "nice": false, "zero": false}, "axis": null},
        "text": {"field": "label"}
      }
    }
  ],
  "resolve": {"axis": {"x": "independent", "y": "independent"}}
}
